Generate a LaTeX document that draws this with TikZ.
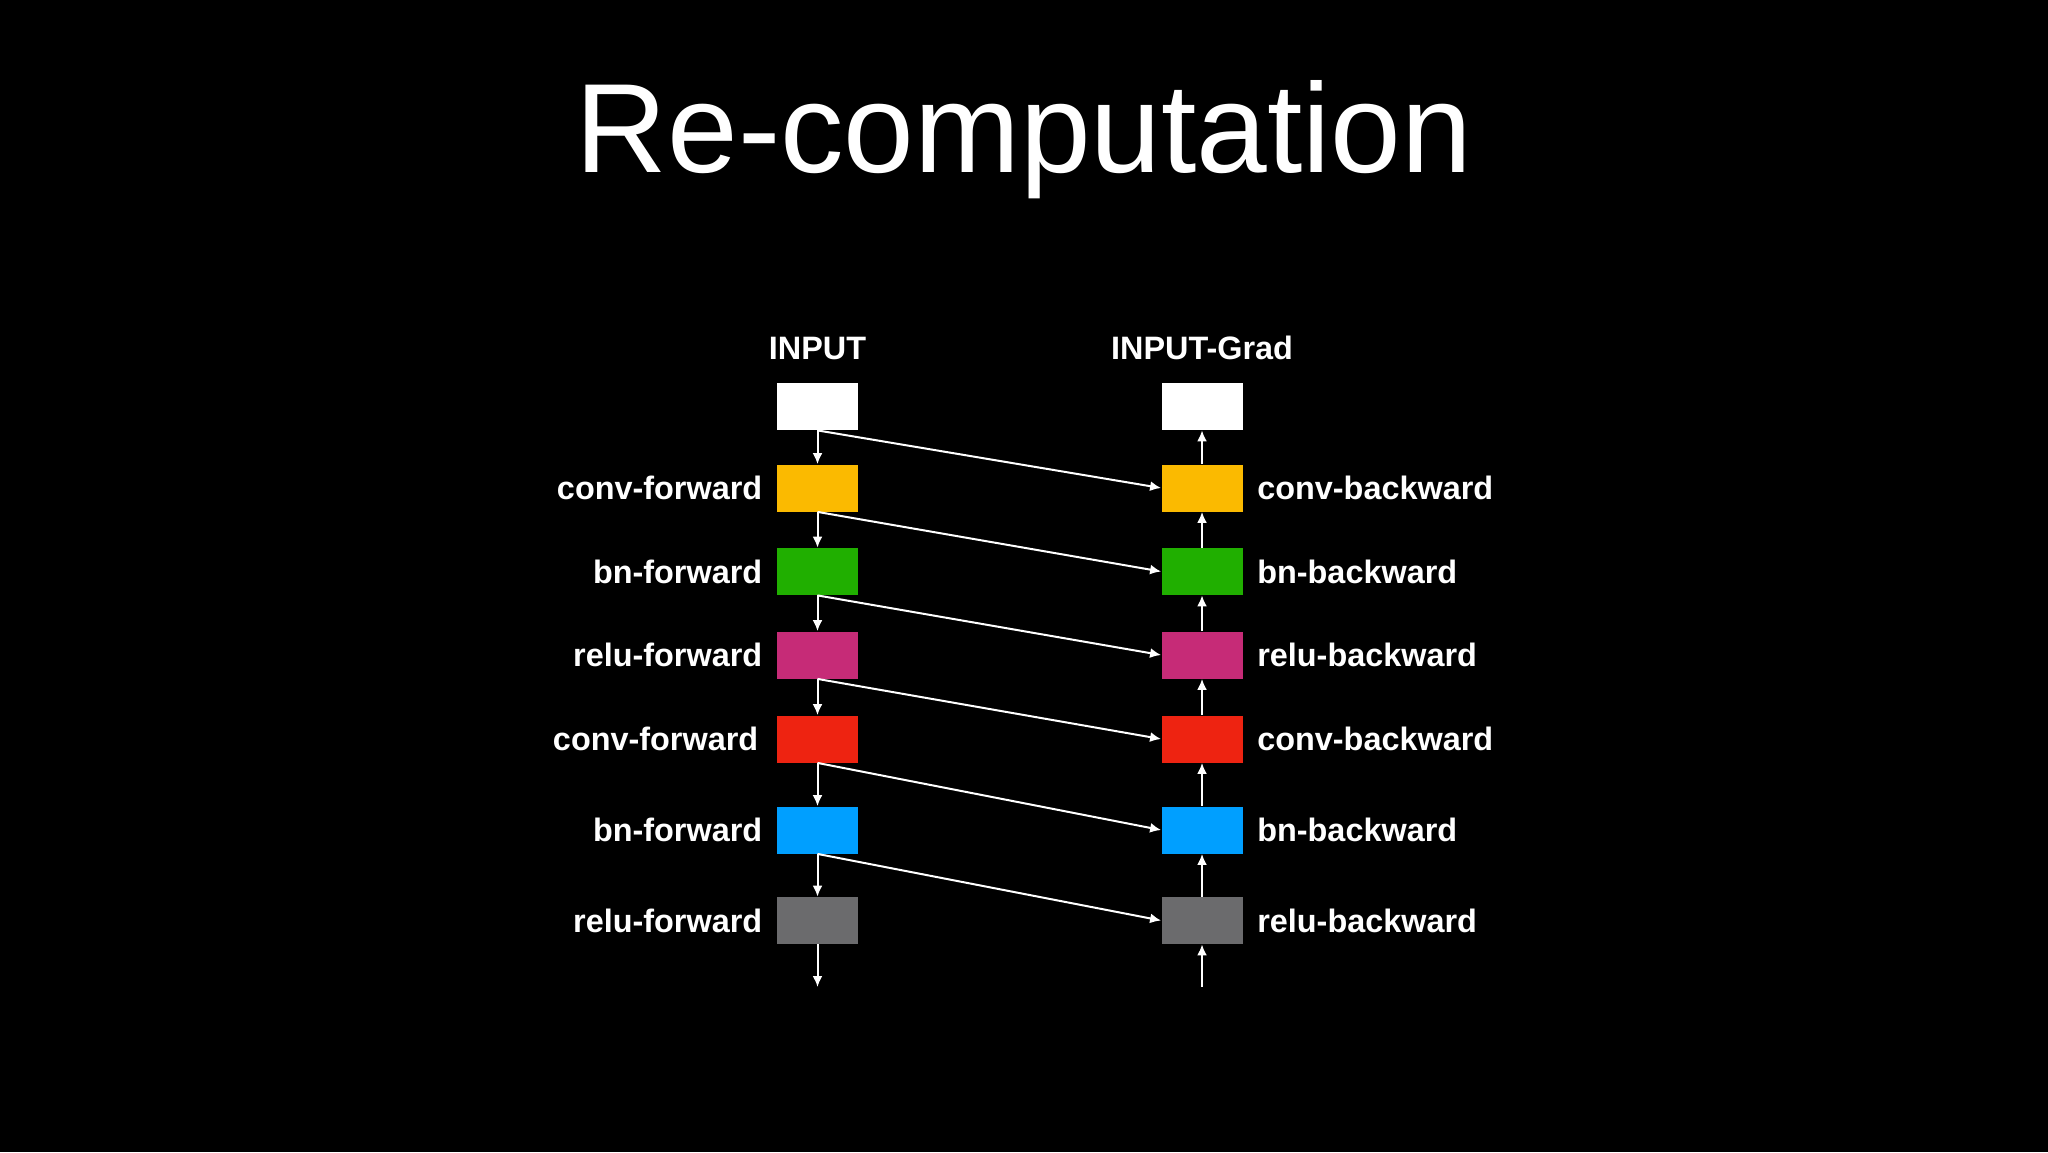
\documentclass[tikz,border=0pt]{standalone}
\usepackage{fontspec}
\setmainfont{Liberation Sans}
\usetikzlibrary{arrows.meta}
\definecolor{convorange}{HTML}{FBBA00}
\definecolor{bngreen}{HTML}{20AF00}
\definecolor{relupink}{HTML}{C62B77}
\definecolor{convred}{HTML}{EE2311}
\definecolor{bnblue}{HTML}{009FFF}
\definecolor{relugray}{HTML}{6B6B6D}
\begin{document}
\begin{tikzpicture}[x=0.5pt,y=-0.5pt,
  layer/.style={minimum width=40.5pt, minimum height=23.5pt, inner sep=0pt},
  lbl/.style={text=white, font=\bfseries\fontsize{16.2}{18}\selectfont, inner sep=0pt},
  flow/.style={draw=white, line width=1pt, -{Latex[length=5.5pt,width=5pt]}}]
%\draw[help lines, color=gray!30] (0,0) grid (2048,1152);
\fill[black] (0,0) rectangle (2048,1152);
\node[text=white, font=\fontsize{63.5}{70}\selectfont, anchor=base] (title) at (1024,172) {Re-computation};
% forward column
\node[layer, fill=white] (in) at (817.5,406.5) {};
\node[layer, fill=convorange] (cf1) at (817.5,488) {};
\node[layer, fill=bngreen] (bf1) at (817.5,571.5) {};
\node[layer, fill=relupink] (rf1) at (817.5,655) {};
\node[layer, fill=convred] (cf2) at (817.5,739) {};
\node[layer, fill=bnblue] (bf2) at (817.5,830) {};
\node[layer, fill=relugray] (rf2) at (817.5,920.5) {};
% backward column
\node[layer, fill=white] (ing) at (1202,406.5) {};
\node[layer, fill=convorange] (cb1) at (1202,488) {};
\node[layer, fill=bngreen] (bb1) at (1202,571.5) {};
\node[layer, fill=relupink] (rb1) at (1202,655) {};
\node[layer, fill=convred] (cb2) at (1202,739) {};
\node[layer, fill=bnblue] (bb2) at (1202,830) {};
\node[layer, fill=relugray] (rb2) at (1202,920.5) {};
% labels
\node[lbl, anchor=base] (in_lbl) at (817.5,359) {INPUT};
\node[lbl, anchor=base] (ing_lbl) at (1202,359) {INPUT-Grad};
\node[lbl, anchor=east] (cf1_lbl) at ([xshift=-7pt]cf1.west) {conv-forward};
\node[lbl, anchor=east] (bf1_lbl) at ([xshift=-7pt]bf1.west) {bn-forward};
\node[lbl, anchor=east] (rf1_lbl) at ([xshift=-7pt]rf1.west) {relu-forward};
\node[lbl, anchor=east] (cf2_lbl) at ([xshift=-9pt]cf2.west) {conv-forward};
\node[lbl, anchor=east] (bf2_lbl) at ([xshift=-7pt]bf2.west) {bn-forward};
\node[lbl, anchor=east] (rf2_lbl) at ([xshift=-7pt]rf2.west) {relu-forward};
\node[lbl, anchor=west] (cb1_lbl) at ([xshift=7pt]cb1.east) {conv-backward};
\node[lbl, anchor=west] (bb1_lbl) at ([xshift=7pt]bb1.east) {bn-backward};
\node[lbl, anchor=west] (rb1_lbl) at ([xshift=7pt]rb1.east) {relu-backward};
\node[lbl, anchor=west] (cb2_lbl) at ([xshift=7pt]cb2.east) {conv-backward};
\node[lbl, anchor=west] (bb2_lbl) at ([xshift=7pt]bb2.east) {bn-backward};
\node[lbl, anchor=west] (rb2_lbl) at ([xshift=7pt]rb2.east) {relu-backward};
% forward arrows
\draw[flow] (in.south) -- (cf1.north);
\draw[flow] (cf1.south) -- (bf1.north);
\draw[flow] (bf1.south) -- (rf1.north);
\draw[flow] (rf1.south) -- (cf2.north);
\draw[flow] (cf2.south) -- (bf2.north);
\draw[flow] (bf2.south) -- (rf2.north);
\coordinate (out) at (817.5,987);
\draw[flow] (rf2.south) -- (out);
% re-computation arrows
\draw[flow] (in.south) -- (cb1.west);
\draw[flow] (cf1.south) -- (bb1.west);
\draw[flow] (bf1.south) -- (rb1.west);
\draw[flow] (rf1.south) -- (cb2.west);
\draw[flow] (cf2.south) -- (bb2.west);
\draw[flow] (bf2.south) -- (rb2.west);
% backward arrows
\coordinate (outg) at (1202,987);
\draw[flow] (outg) -- (rb2.south);
\draw[flow] (rb2.north) -- (bb2.south);
\draw[flow] (bb2.north) -- (cb2.south);
\draw[flow] (cb2.north) -- (rb1.south);
\draw[flow] (rb1.north) -- (bb1.south);
\draw[flow] (bb1.north) -- (cb1.south);
\draw[flow] (cb1.north) -- (ing.south);
\end{tikzpicture}
\end{document}
